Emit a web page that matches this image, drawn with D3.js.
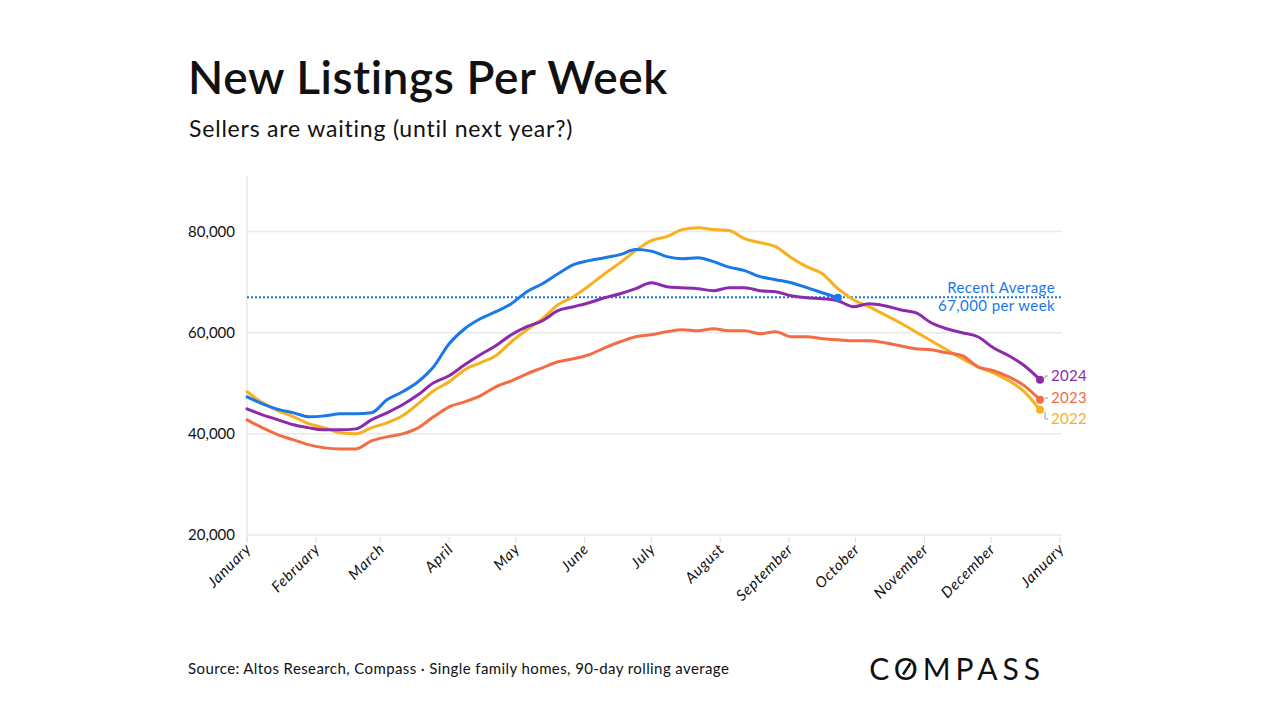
<!DOCTYPE html>
<html>
<head>
<meta charset="utf-8">
<script src="https://cdn.jsdelivr.net/npm/d3@7"></script>
<style>
  body { margin: 0; background: #ffffff; }
  svg { display: block; font-family: "Lato", "Open Sans", sans-serif; }
</style>
</head>
<body>
<svg id="chart" width="1280" height="720"></svg>
<script>
// weekly dates (2024 calendar used as the generic year)
var weeks = ["01-01","01-08","01-15","01-22","01-29","02-05","02-12","02-19","02-26",
  "03-04","03-11","03-18","03-25","04-01","04-08","04-15","04-22","04-29",
  "05-06","05-13","05-20","05-27","06-03","06-10","06-17","06-24",
  "07-01","07-08","07-15","07-22","07-29","08-05","08-12","08-19","08-26",
  "09-02","09-09","09-16","09-23","09-30","10-07","10-14","10-21","10-28",
  "11-04","11-11","11-18","11-25","12-02","12-09","12-16","12-23"];

var seriesNames = ["2022", "2023", "2024", "2025"];

var values2022 = [48320,46140,44560,43370,41980,41190,40200,40000,41190,42180,43570,45940,
  48520,50300,52680,54060,55450,58220,60600,62770,65550,67130,69310,71680,73860,76240,
  78220,79010,80400,80790,80400,80200,78610,77820,77030,74850,73070,71680,68710,66540,
  65150,63570,61980,60200,58420,56640,54850,53270,52080,50500,48320,44750];

var values2023 = [42770,41190,39800,38820,37830,37230,37030,37030,38620,39410,40000,41190,
  43370,45350,46340,47530,49310,50500,51880,53070,54260,54850,55650,57030,58220,59210,
  59610,60200,60600,60400,60790,60400,60400,59800,60200,59210,59210,58810,58620,58420,
  58420,58020,57430,56840,56640,56040,55450,53270,52480,51290,49500,46740];

var values2024 = [44950,43770,42780,41790,41190,40800,40800,40990,42780,44160,45750,47730,
  50100,51490,53670,55650,57430,59610,61190,62380,64360,65150,65940,66930,67720,68710,
  69900,69110,68910,68710,68320,68910,68910,68320,68120,67330,66930,66730,66340,65150,
  65740,65350,64560,63960,61980,60790,60000,59210,57030,55450,53470,50700];

var values2025 = [47330,45940,44850,44160,43370,43570,43960,43960,44160,46740,48320,50300,
  53270,57820,60790,62770,64160,65740,68120,69700,71680,73470,74260,74850,75450,76440,
  76140,75050,74650,74850,74060,72970,72280,71090,70500,69900,68910,67920,66930];

var colors = { "2022": "#f8b11c", "2023": "#f36d44", "2024": "#8d2aab", "2025": "#1a78e8" };

var yTicks = [20000, 40000, 60000, 80000];
var recentAverage = 67000;

var svg = d3.select("#chart");
var parse = d3.timeParse("%Y-%m-%d");

var x = d3.scaleTime()
  .domain([new Date(2024, 0, 1), new Date(2025, 0, 1)])
  .range([247, 1060]);
var y = d3.scaleLinear()
  .domain([20000, 91000])
  .range([535, 176]);

// title
svg.append("text").attr("x", 188).attr("y", 94)
  .attr("font-size", 46).attr("font-weight", 600).attr("letter-spacing", 0.6).attr("fill", "#111")
  .text("New Listings Per Week");
svg.append("text").attr("x", 189).attr("y", 137)
  .attr("font-size", 23).attr("letter-spacing", 0.8).attr("fill", "#111")
  .text("Sellers are waiting (until next year?)");

// grid
svg.append("g").selectAll("line").data(yTicks).join("line")
  .attr("x1", 247).attr("x2", 1062)
  .attr("y1", d => y(d)).attr("y2", d => y(d))
  .attr("stroke", "#e9e9e9").attr("stroke-width", 1.5);
svg.append("line").attr("x1", 247).attr("x2", 247).attr("y1", 176).attr("y2", 540)
  .attr("stroke", "#e9e9e9").attr("stroke-width", 1.5);

// y labels
svg.append("g").selectAll("text").data(yTicks).join("text")
  .attr("x", 235).attr("y", d => y(d) + 5)
  .attr("text-anchor", "end").attr("font-size", 15).attr("fill", "#111")
  .text(d3.format(","));

// x ticks + labels
var months = x.ticks(d3.timeMonth.every(1));
var xg = svg.append("g");
xg.selectAll("line").data(months).join("line")
  .attr("x1", d => x(d)).attr("x2", d => x(d))
  .attr("y1", 537).attr("y2", 543)
  .attr("stroke", "#dddddd").attr("stroke-width", 1);
xg.selectAll("text").data(months).join("text")
  .attr("transform", d => "translate(" + (x(d) + 5) + ",550) rotate(-45)")
  .attr("text-anchor", "end").attr("font-size", 15).attr("letter-spacing", 0.7)
  .attr("font-style", "italic").attr("fill", "#111")
  .text(d3.timeFormat("%B"));

// recent average
svg.append("line").attr("x1", 247).attr("x2", 1062)
  .attr("y1", y(recentAverage)).attr("y2", y(recentAverage))
  .attr("stroke", colors["2025"]).attr("stroke-width", 2)
  .attr("stroke-dasharray", "2,2");
svg.append("text").attr("x", 1055).attr("y", y(recentAverage) - 4)
  .attr("text-anchor", "end").attr("font-size", 15).attr("letter-spacing", 0.4)
  .attr("fill", colors["2025"])
  .text("Recent Average");
svg.append("text").attr("x", 1055).attr("y", y(recentAverage) + 14)
  .attr("text-anchor", "end").attr("font-size", 15).attr("letter-spacing", 0.4)
  .attr("fill", colors["2025"])
  .text("67,000 per week");

// lines
var allValues = { "2022": values2022, "2023": values2023, "2024": values2024, "2025": values2025 };
var line = d3.line()
  .x(d => x(d.date)).y(d => y(d.value))
  .curve(d3.curveMonotoneX);

seriesNames.forEach(function(name) {
  var pts = allValues[name].map((v, i) => ({ date: parse("2024-" + weeks[i]), value: v }));
  svg.append("path").datum(pts)
    .attr("d", line).attr("fill", "none")
    .attr("stroke", colors[name]).attr("stroke-width", 3)
    .attr("stroke-linejoin", "round").attr("stroke-linecap", "round");
  var last = pts[pts.length - 1];
  svg.append("circle").attr("cx", x(last.date)).attr("cy", y(last.value))
    .attr("r", 4).attr("fill", colors[name]);
});

// end labels with small connectors
var labelY = { "2024": 376, "2023": 398, "2022": 419 };
["2024", "2023", "2022"].forEach(function(name) {
  var vals = allValues[name];
  var lx = x(parse("2024-" + weeks[vals.length - 1]));
  var ly = y(vals[vals.length - 1]);
  var ty = labelY[name];
  svg.append("path")
    .attr("d", "M" + (lx + 5) + "," + (ly + (ty > ly ? 2 : -1)) + " L" + (lx + 5) + "," + ty + " L" + (lx + 8) + "," + ty)
    .attr("fill", "none").attr("stroke", "#999").attr("stroke-width", 1);
  svg.append("text").attr("x", lx + 11).attr("y", ty + 5)
    .attr("font-size", 15).attr("letter-spacing", 0.3).attr("fill", colors[name])
    .text(name);
});

// footer
svg.append("text").attr("x", 188).attr("y", 674)
  .attr("font-size", 15).attr("letter-spacing", 0.4).attr("fill", "#111")
  .text("Source: Altos Research, Compass \u00b7 Single family homes, 90-day rolling average");
var logo = svg.append("text").attr("x", 1045).attr("y", 680)
  .attr("text-anchor", "end").attr("font-size", 30).attr("letter-spacing", 5)
  .attr("fill", "#111")
  .text("COMPASS");
// slash through the O of the logo
var ob = logo.node().getExtentOfChar(1);
svg.append("line")
  .attr("x1", ob.x + ob.width * 0.32).attr("y1", ob.y + ob.height * 0.68)
  .attr("x2", ob.x + ob.width * 0.58).attr("y2", ob.y + ob.height * 0.36)
  .attr("stroke", "#111").attr("stroke-width", 2.5);
</script>
</body>
</html>
